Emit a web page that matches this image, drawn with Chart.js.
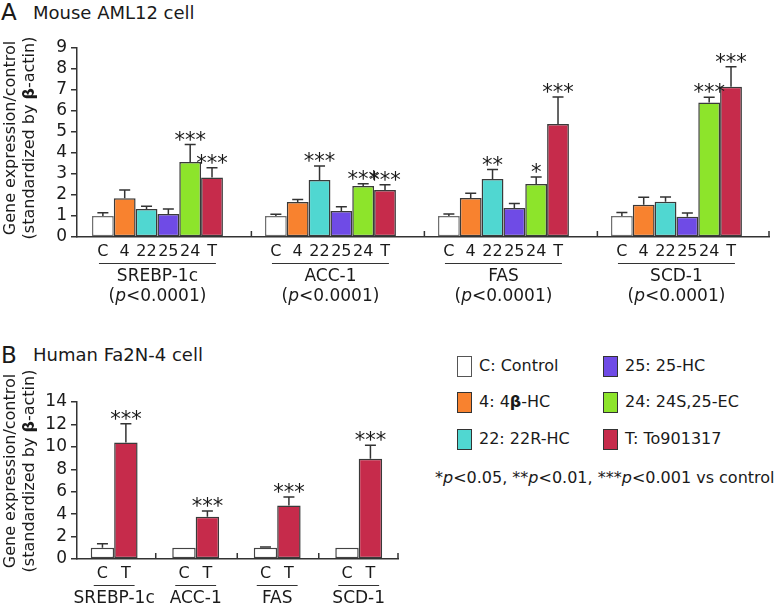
<!DOCTYPE html>
<html>
<head>
<meta charset="utf-8">
<script src="https://cdn.jsdelivr.net/npm/chart.js@4.4.0/dist/chart.umd.min.js"></script>
<style>
  body { margin: 0; background: #fff; width: 782px; height: 606px; position: relative; overflow: hidden;
         font-family: 'DejaVu Sans', sans-serif; color: #1a1a1a; }
  .abs { position: absolute; white-space: nowrap; }
  #cA { position: absolute; left: 0; top: 0; }
  #cB { position: absolute; left: 0; top: 360px; }
  .box { position: absolute; width: 13px; height: 19px; border: 1px solid #333; }
  .lg { position: absolute; font-size: 16px; line-height: 20px; white-space: nowrap; }
</style>
</head>
<body>
<div class="abs" style="left:1px;top:-2px;font-size:23px;line-height:28px">A</div>
<div class="abs" style="left:33px;top:2px;font-size:18px;line-height:22px">Mouse AML12 cell</div>
<canvas id="cA" width="782" height="310"></canvas>
<div class="abs" style="left:1px;top:341px;font-size:23px;line-height:28px">B</div>
<div class="abs" style="left:33px;top:344px;font-size:18px;line-height:22px">Human Fa2N-4 cell</div>
<canvas id="cB" width="410" height="246"></canvas>
<div id="legend"></div>
<div class="abs" style="left:435px;top:468px;font-size:16px;line-height:20px">*<i>p</i>&lt;0.05, **<i>p</i>&lt;0.01, ***<i>p</i>&lt;0.001 vs control</div>

<script>
// ---- panel A: mouse AML12 cell ----
const genesA = ['SREBP-1c', 'ACC-1', 'FAS', 'SCD-1'];
const pvalA = ['<0.0001', '<0.0001', '<0.0001', '<0.0001'];
const shortA = ['C', '4', '22', '25', '24', 'T'];

const ctrlA = [1.00, 1.00, 1.00, 1.00];
const hc4A  = [1.84, 1.67, 1.86, 1.54];
const hc22A = [1.33, 2.71, 2.76, 1.68];
const hc25A = [1.10, 1.24, 1.38, 0.97];
const ec24A = [3.57, 2.43, 2.52, 6.40];
const toA   = [2.83, 2.24, 5.38, 7.16];

const ctrlErrA = [0.16, 0.08, 0.10, 0.17];
const hc4ErrA  = [0.40, 0.11, 0.22, 0.35];
const hc22ErrA = [0.13, 0.67, 0.45, 0.22];
const hc25ErrA = [0.23, 0.20, 0.21, 0.17];
const ec24ErrA = [0.83, 0.11, 0.34, 0.25];
const toErrA   = [0.47, 0.25, 1.29, 0.95];

const none = ['', '', '', ''];
const hc22StarA = ['', '***', '**', ''];
const ec24StarA = ['***', '***', '*', '***'];
const toStarA   = ['***', '***', '***', '***'];

// ---- panel B: human Fa2N-4 cell ----
const genesB = ['SREBP-1c', 'ACC-1', 'FAS', 'SCD-1'];
const ctrlB = [1.00, 1.00, 1.00, 1.00];
const toB   = [10.39, 3.77, 4.78, 8.93];
const ctrlErrB = [0.37, 0, 0.07, 0];
const toErrB   = [1.66, 0.50, 0.74, 1.22];
const toStarB  = ['***', '***', '***', '***'];

const legendNames = ['C: Control', '4: 4<b>β</b>-HC', '22: 22R-HC', '25: 25-HC', '24: 24S,25-EC', 'T: To901317'];
const colors = ['#ffffff', '#f8822f', '#50d7d1', '#6f4be6', '#8de42b', '#c62b4b'];
const borders = ['#707070', '#3a3a3a', '#3a3a3a', '#3a3a3a', '#3a3a3a', '#3a3a3a'];

const FONT = "'DejaVu Sans', sans-serif";
const INK = '#1a1a1a';

function makeSet(label, vals, errs, stars, ci, border) {
  return {
    label: label,
    data: vals.map((v, i) => ({ x: i, y: v })),
    errors: errs,
    stars: stars,
    backgroundColor: colors[ci],
    borderColor: border || borders[ci],
    borderWidth: 1.5,
    borderSkipped: false
  };
}

// draws error bars, stars, group labels, boundary ticks and the y title
const deco = {
  id: 'deco',
  afterDatasetsDraw(chart, args, o) {
    const ctx = chart.ctx, ys = chart.scales.y, xs = chart.scales.x, a = chart.chartArea;
    const sets = chart.data.datasets;
    ctx.save();
    ctx.strokeStyle = '#333';
    ctx.lineWidth = 1.5;
    ctx.fillStyle = INK;
    sets.forEach((d, i) => {
      chart.getDatasetMeta(i).data.forEach((bar, j) => {
        const top = ys.getPixelForValue(d.data[j].y + d.errors[j]);
        if (d.errors[j] > 0) {
          ctx.beginPath();
          ctx.moveTo(bar.x, bar.y);
          ctx.lineTo(bar.x, top);
          ctx.moveTo(bar.x - 5.5, top);
          ctx.lineTo(bar.x + 5.5, top);
          ctx.stroke();
        }
        if (d.stars[j]) {
          ctx.font = '21px ' + FONT;
          ctx.textAlign = 'center';
          ctx.textBaseline = 'alphabetic';
          ctx.fillText(d.stars[j], bar.x, top + 2);
        }
      });
    });

    // boundary ticks pointing up
    const n = o.genes.length;
    ctx.beginPath();
    for (let i = 0; i < n - 1; i++) {
      const px = xs.getPixelForValue(i + o.tickOffset);
      ctx.moveTo(px, a.bottom);
      ctx.lineTo(px, a.bottom - 6);
    }
    ctx.moveTo(a.right, a.bottom);
    ctx.lineTo(a.right, a.bottom - 6);
    ctx.stroke();

    // labels under the bars
    const first = chart.getDatasetMeta(0).data;
    const last = chart.getDatasetMeta(sets.length - 1).data;
    ctx.textAlign = 'center';
    ctx.textBaseline = 'middle';
    sets.forEach((d, i) => {
      ctx.font = '16px ' + FONT;
      chart.getDatasetMeta(i).data.forEach((bar) => {
        ctx.fillText(d.label, bar.x, a.bottom + 15);
      });
    });
    for (let j = 0; j < n; j++) {
      const l = first[j].x - first[j].width / 2 + o.inset;
      const r = last[j].x + last[j].width / 2 - o.inset;
      const cx = (first[j].x + last[j].x) / 2;
      ctx.lineWidth = 1;
      ctx.beginPath();
      ctx.moveTo(l, a.bottom + 26.5);
      ctx.lineTo(r, a.bottom + 26.5);
      ctx.stroke();
      ctx.font = '17px ' + FONT;
      ctx.textAlign = 'center';
      ctx.fillText(o.genes[j], cx, a.bottom + 40);
      if (o.pvals) {
        const p1 = '(', p2 = 'p', p3 = o.pvals[j] + ')';
        ctx.font = '17px ' + FONT;
        const w1 = ctx.measureText(p1).width, w3 = ctx.measureText(p3).width;
        ctx.font = 'italic 17px ' + FONT;
        const w2 = ctx.measureText(p2).width;
        let x0 = cx - (w1 + w2 + w3) / 2;
        const yy = a.bottom + 60;
        ctx.textAlign = 'left';
        ctx.font = '17px ' + FONT;
        ctx.fillText(p1, x0, yy);
        ctx.font = 'italic 17px ' + FONT;
        ctx.fillText(p2, x0 + w1, yy);
        ctx.font = '17px ' + FONT;
        ctx.fillText(p3, x0 + w1 + w2, yy);
        ctx.textAlign = 'center';
      }
    }

    // two-line y title
    ctx.translate(11, o.titleY);
    ctx.rotate(-Math.PI / 2);
    ctx.textBaseline = 'middle';
    ctx.textAlign = 'center';
    ctx.font = '16px ' + FONT;
    ctx.fillText('Gene expression/control', 0, 0);
    const t1 = '(standardized by ', t2 = 'β', t3 = '-actin)';
    const w1 = ctx.measureText(t1).width, w3 = ctx.measureText(t3).width;
    ctx.font = 'bold 16px ' + FONT;
    const w2 = ctx.measureText(t2).width;
    let x0 = -(w1 + w2 + w3) / 2;
    ctx.textAlign = 'left';
    ctx.font = '16px ' + FONT;
    ctx.fillText(t1, x0, 19);
    ctx.font = 'bold 16px ' + FONT;
    ctx.fillText(t2, x0 + w1, 19);
    ctx.font = '16px ' + FONT;
    ctx.fillText(t3, x0 + w1 + w2, 19);
    ctx.restore();
  }
};

function makeChart(id, sets, genes, yMax, yStep, xMin, xMax, catPct, xHeight, pad, extra) {
  return new Chart(document.getElementById(id), {
    type: 'bar',
    data: { datasets: sets },
    plugins: [deco],
    options: {
      responsive: false,
      animation: false,
      devicePixelRatio: 1,
      categoryPercentage: catPct,
      barPercentage: 1,
      layout: { padding: pad },
      plugins: {
        legend: { display: false },
        tooltip: { enabled: false },
        deco: Object.assign({ genes: genes }, extra)
      },
      scales: {
        x: {
          type: 'linear',
          offset: false,
          min: xMin,
          max: xMax,
          afterBuildTicks: (s) => { s.ticks = genes.map((g, i) => ({ value: i })); },
          afterFit: (s) => { s.height = xHeight; },
          ticks: { display: false },
          grid: { display: false },
          border: { display: true, color: '#333', width: 1.5 }
        },
        y: {
          min: 0,
          max: yMax,
          afterFit: (s) => { s.width = 77; },
          ticks: { stepSize: yStep, autoSkip: false, maxTicksLimit: 20, padding: 4, color: INK,
                   font: { family: FONT, size: 17 } },
          grid: { drawOnChartArea: false, drawTicks: true, tickLength: 6, color: '#333', lineWidth: 1.5 },
          border: { display: true, color: '#333', width: 1.5 }
        }
      }
    }
  });
}

const setsA = [
  makeSet(shortA[0], ctrlA, ctrlErrA, none, 0),
  makeSet(shortA[1], hc4A, hc4ErrA, none, 1),
  makeSet(shortA[2], hc22A, hc22ErrA, hc22StarA, 2),
  makeSet(shortA[3], hc25A, hc25ErrA, none, 3),
  makeSet(shortA[4], ec24A, ec24ErrA, ec24StarA, 4),
  makeSet(shortA[5], toA, toErrA, toStarA, 5)
];
makeChart('cA', setsA, genesA, 9, 1, -0.465, 3.535, 0.757, 73,
  { top: 48, right: 13, left: 0, bottom: 0 },
  { pvals: pvalA, tickOffset: 0.543, inset: 7, titleY: 138 });

const setsB = [
  makeSet('C', ctrlB, ctrlErrB, none, 0, '#444'),
  makeSet('T', toB, toErrB, toStarB, 5)
];
makeChart('cB', setsB, genesB, 14, 2, -0.456, 3.482, 0.575, 47,
  { top: 42, right: 12, left: 0, bottom: 0 },
  { tickOffset: 0.51, inset: 3, titleY: 111 });

// legend, two columns of three
const lg = document.getElementById('legend');
const rowY = [366, 402, 439];
legendNames.forEach((name, i) => {
  const col = Math.floor(i / 3), row = i % 3;
  const bx = col === 0 ? 457 : 603;
  const b = document.createElement('div');
  b.className = 'box';
  b.style.left = bx + 'px';
  b.style.top = (rowY[row] - 10) + 'px';
  b.style.background = colors[i];
  b.style.borderColor = i === 0 ? '#555' : '#333';
  lg.appendChild(b);
  const t = document.createElement('div');
  t.className = 'lg';
  t.style.left = (bx + 22) + 'px';
  t.style.top = (rowY[row] - 10) + 'px';
  t.innerHTML = name;
  lg.appendChild(t);
});
</script>
</body>
</html>
